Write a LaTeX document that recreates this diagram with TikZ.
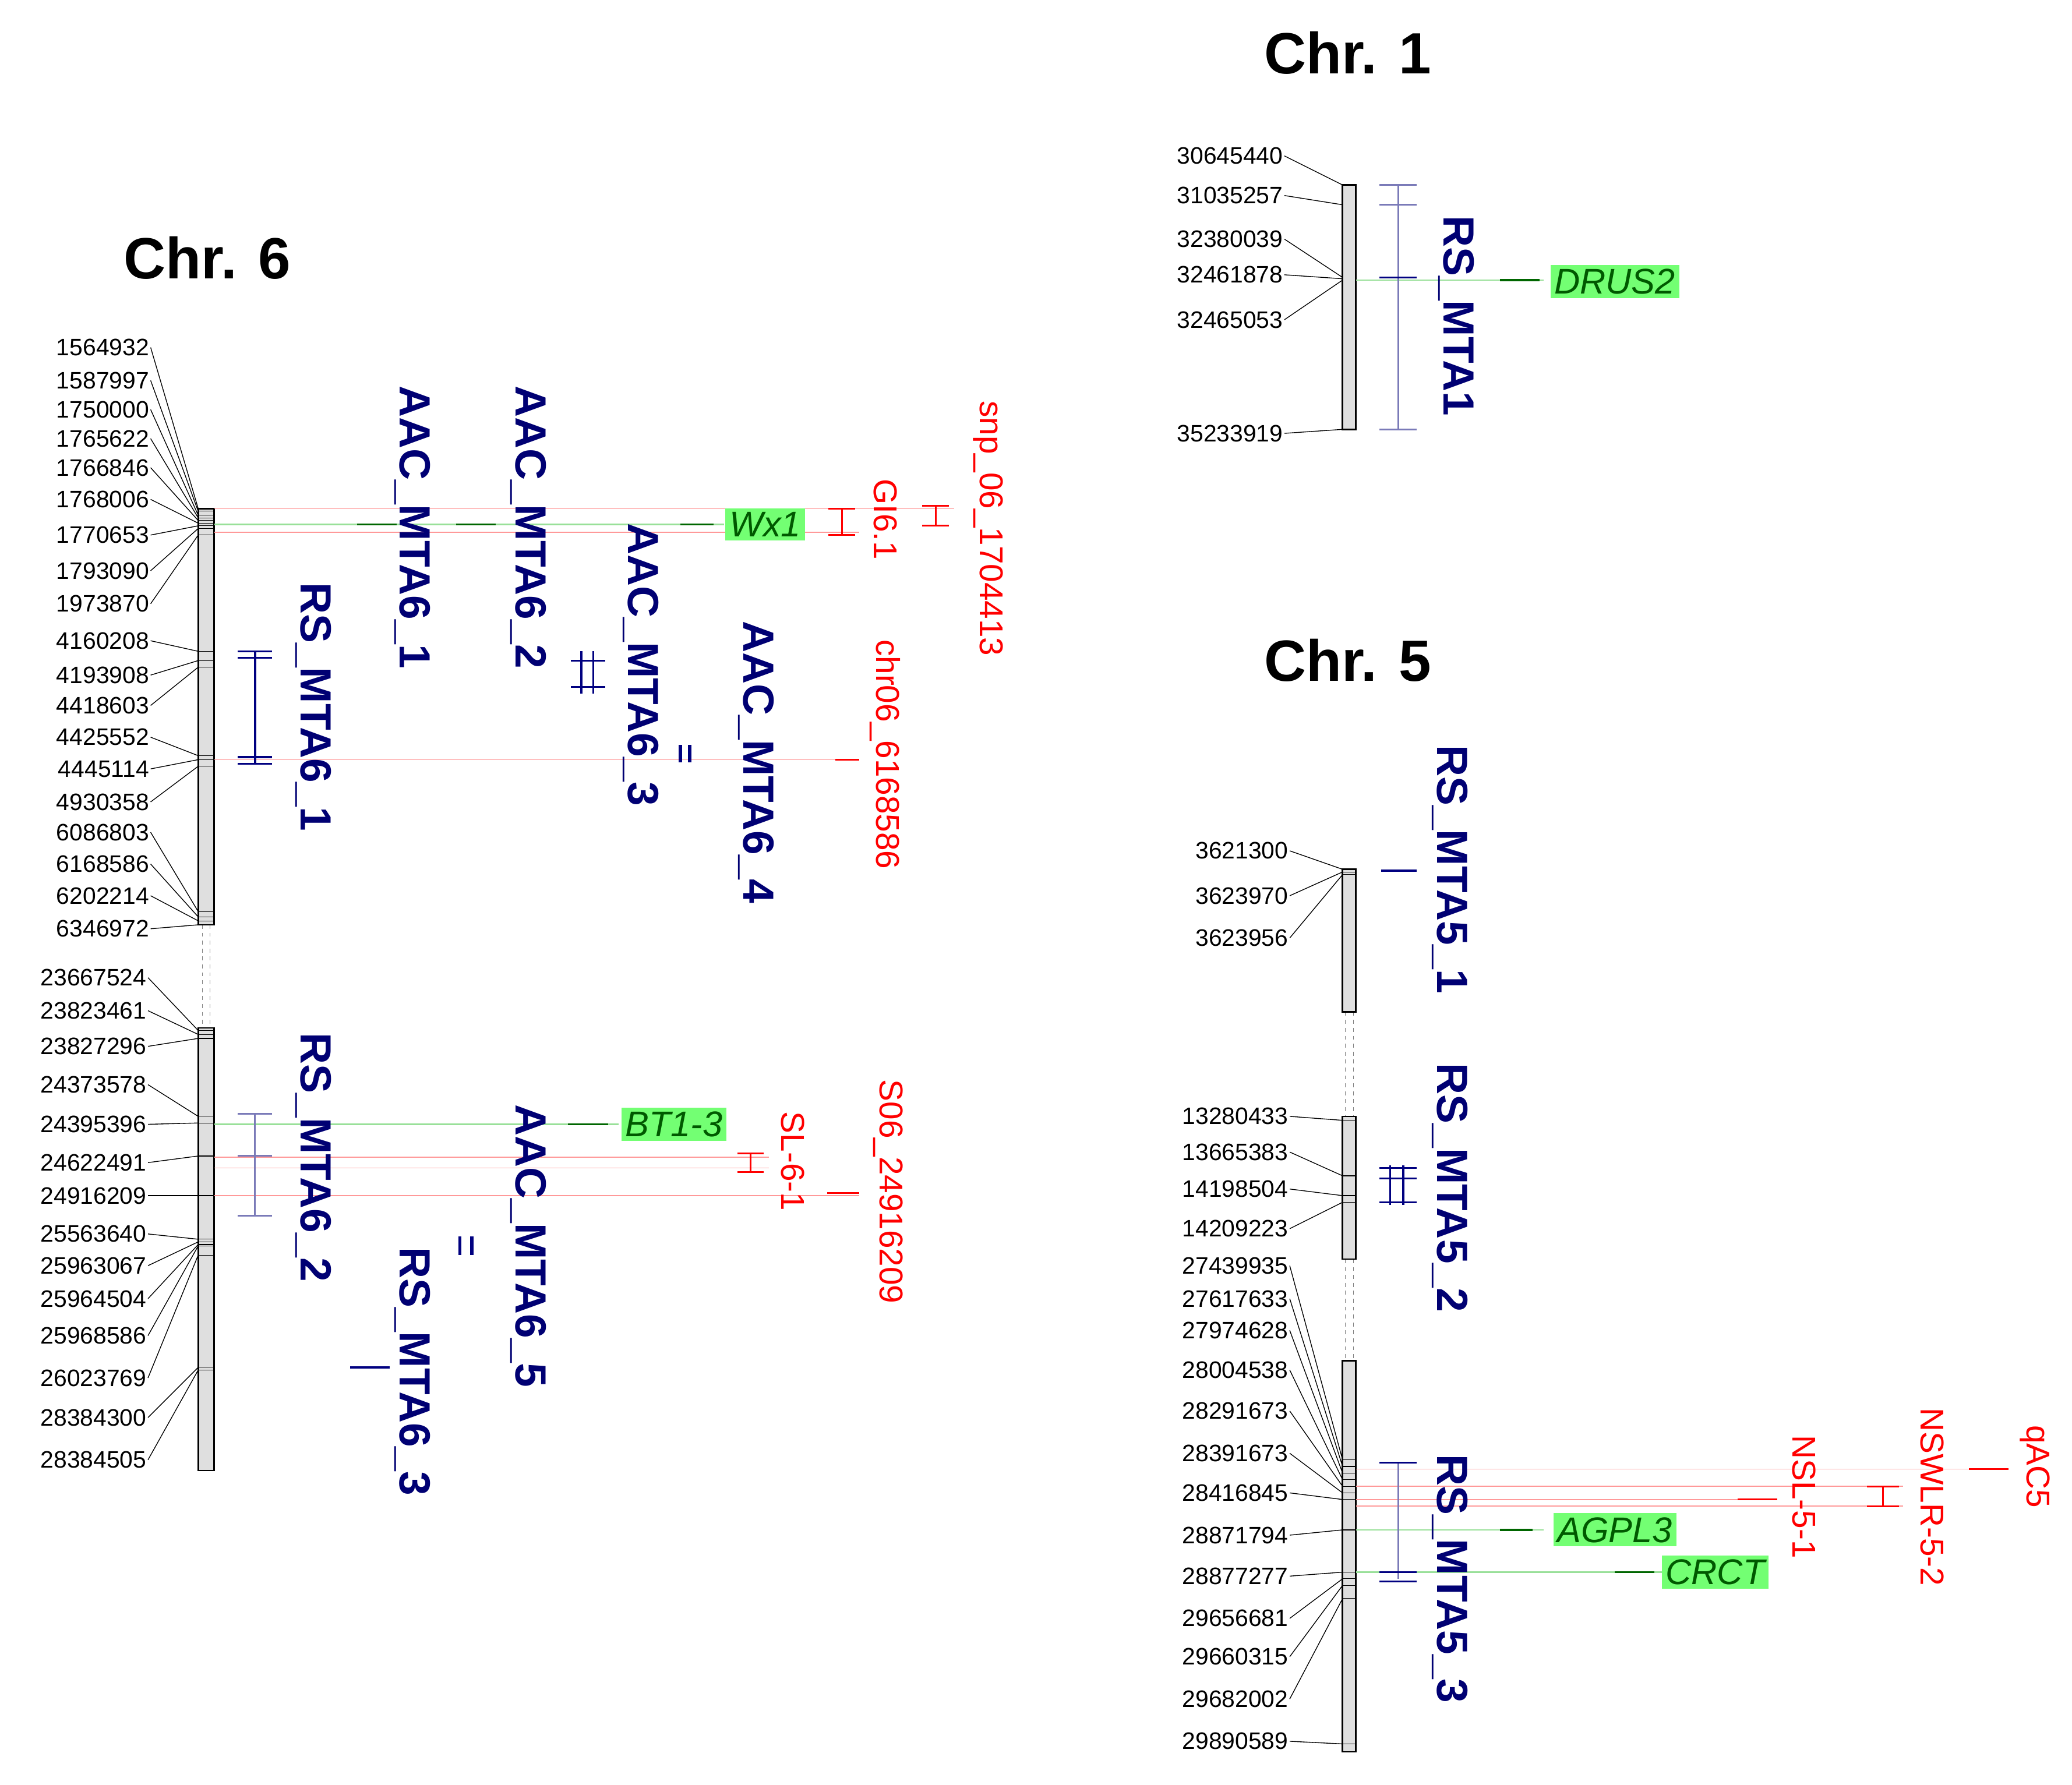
\documentclass[tikz,border=0pt]{standalone}
\usepackage{fontspec}
\setmainfont{Liberation Sans}
\begin{document}
\begin{tikzpicture}[x=1pt,y=-1pt,
 num/.style={anchor=east,font=\fontsize{18}{18}\selectfont,inner sep=1pt},
 mk/.style={rotate=-90,font=\fontsize{33}{33}\selectfont\bfseries,text=blue!45!black,inner sep=0pt},
 qt/.style={rotate=-90,font=\fontsize{25}{25}\selectfont,text=red,inner sep=0pt},
 bar/.style={draw=black,fill=gray!25,line width=1.2pt},
 gene/.style={fill=green!55,text=green!35!black,font=\fontsize{27}{27}\selectfont\itshape,inner sep=3pt},
 ttl/.style={font=\fontsize{44}{44}\selectfont\bfseries},
 rl/.style={red!40,line width=0.7pt},
 gl/.style={green!70!black!40,line width=1pt},
 ri/.style={red,line width=1.3pt},
 bi/.style={blue!50!black,line width=1.5pt},
 lbi/.style={blue!30!gray!80,line width=1.3pt},
 gt/.style={green!40!black,line width=1.5pt}]
\useasboundingbox (0,0) rectangle (1568,1351);
% ---------- Chr 6 ----------
\node[ttl] (t6) at (157,195) {Chr. 6};
\draw[gray,dashed] (153,700) -- (153,778) (159,700) -- (159,778);
\node[bar,minimum width=12pt,minimum height=315pt,inner sep=0pt] (b6a) at (156,542.5) {};
\node[bar,minimum width=12pt,minimum height=335pt,inner sep=0pt] (b6b) at (156,945.5) {};
\foreach \v/\ly/\by [count=\i] in {1564932/263/385,1587997/288/387,1750000/310/390,1765622/332/392,1766846/354/394,1768006/378/396,1770653/405/398,1793090/432/400,1973870/457/405,4160208/485/493,4193908/511/500,4418603/534/505,4425552/558/572,4445114/582/575,4930358/607/580,6086803/630/690,6168586/654/694,6202214/678/697,6346972/703/700}{
 \node[num] (ua\i) at (114,\ly) {\v};
 \draw[line width=0.6pt] (ua\i.east) -- (150,\by);
 \draw[line width=0.5pt] (150,\by) -- (162,\by);}
\foreach \v/\ly/\by [count=\i] in {23667524/740/780,23823461/765/783,23827296/792/786,24373578/821/845,24395396/851/850,24622491/880/875,24916209/905/905,25563640/934/938,25963067/958/940,25964504/983/942,25968586/1011/943,26023769/1043/950,28384300/1073/1035,28384505/1105/1037}{
 \node[num] (lb\i) at (112,\ly) {\v};
 \draw[line width=0.6pt] (lb\i.east) -- (150,\by);
 \draw[line width=0.5pt] (150,\by) -- (162,\by);}
% horizontal lines
\draw[rl] (162,385) -- (722,385);
\draw[rl] (162,403) -- (650,403);
\draw[gl] (162,397) -- (548,397);
\draw[rl] (162,575) -- (650,575);
\draw[gl] (162,851) -- (468,851);
\draw[rl] (162,876) -- (582,876) (162,884) -- (582,884);
\draw[rl] (162,905) -- (650,905);
% markers chr6
\node[mk] (a61) at (312,399) {AAC\_MTA6\_1};
\draw[gt] (270,397) -- (300,397);
\node[mk] (a62) at (400,399) {AAC\_MTA6\_2};
\draw[gt] (345,397) -- (375,397);
\node[mk] (a63) at (485,503) {AAC\_MTA6\_3};
\draw[gt] (515,397) -- (540,397);
\draw[bi] (440,493)--(440,525) (449,493)--(449,525) (432,500)--(458,500) (432,520)--(458,520);
\node[mk] (a64) at (572,577) {AAC\_MTA6\_4};
\draw[bi,line width=2.5pt] (515,564)--(515,577) (522,564)--(522,577);
\node[gene] (wx1) at (579,397) {Wx1};
\node[qt] (gi61) at (670,393) {GI6.1};
\draw[ri] (637,385)--(637,405) (627,385)--(647,385) (627,405)--(647,405);
\node[qt] (snp) at (748,400) {snp\_06\_1704413};
\draw[ri] (708,383)--(708,398) (698,383)--(718,383) (698,398)--(718,398);
\node[qt] (c06) at (670,571) {chr06\_6168586};
\draw[ri] (632,575)--(650,575);
\node[mk] (r61) at (237,535) {RS\_MTA6\_1};
\draw[bi] (193,493)--(193,578) (180,493)--(206,493) (180,498)--(206,498) (180,573)--(206,573) (180,578)--(206,578);
\node[mk] (r62) at (237,876) {RS\_MTA6\_2};
\draw[lbi] (193,843)--(193,920) (180,843)--(206,843) (180,875)--(206,875) (180,920)--(206,920);
\node[gene] (bt13) at (510,851) {BT1-3};
\draw[gt] (430,851)--(460,851);
\node[mk] (a65) at (400,943) {AAC\_MTA6\_5};
\draw[bi,line width=2.5pt] (348,936)--(348,950) (357,936)--(357,950);
\node[mk] (r63) at (312,1038) {RS\_MTA6\_3};
\draw[bi] (265,1035)--(295,1035);
\node[qt] (sl61) at (600,879) {SL-6-1};
\draw[ri] (568,873)--(568,887) (558,873)--(578,873) (558,887)--(578,887);
\node[qt] (s06) at (672,902) {S06\_24916209};
\draw[ri] (626,903)--(650,903);
% ---------- Chr 1 ----------
\node[ttl] (t1) at (1020,40) {Chr. 1};
\node[bar,minimum width=10pt,minimum height=185pt,inner sep=0pt] (b1) at (1021,232.5) {};
\foreach \v/\ly/\by [count=\i] in {30645440/118/140,31035257/148/155,32380039/181/210,32461878/208/211,32465053/242/212,35233919/328/325}{
 \node[num] (c1\i) at (972,\ly) {\v};
 \draw[line width=0.6pt] (c1\i.east) -- (1016,\by);}
\draw[gl] (1026,212) -- (1168,212);
\draw[lbi] (1058,140)--(1058,325) (1044,140)--(1072,140) (1044,155)--(1072,155) (1044,325)--(1072,325);
\draw[bi] (1044,210)--(1072,210);
\draw[gt] (1135,212)--(1165,212);
\node[mk] (r1) at (1102,239) {RS\_MTA1};
\node[gene] (drus2) at (1222,213) {DRUS2};
% ---------- Chr 5 ----------
\node[ttl] (t5) at (1020,500) {Chr. 5};
\draw[gray,dashed] (1018,766)--(1018,845) (1024,766)--(1024,845) (1018,953)--(1018,1030) (1024,953)--(1024,1030);
\node[bar,minimum width=10pt,minimum height=108pt,inner sep=0pt] (b5a) at (1021,712) {};
\node[bar,minimum width=10pt,minimum height=108pt,inner sep=0pt] (b5b) at (1021,899) {};
\node[bar,minimum width=10pt,minimum height=296pt,inner sep=0pt] (b5c) at (1021,1178) {};
\foreach \v/\ly/\by [count=\i] in {3621300/644/658,3623970/678/660,3623956/710/662,13280433/845/848,13665383/872/890,14198504/900/905,14209223/930/910,27439935/958/1105,27617633/983/1110,27974628/1007/1115,28004538/1037/1120,28291673/1068/1125,28391673/1100/1130,28416845/1130/1135,28871794/1162/1158,28877277/1193/1190,29656681/1225/1195,29660315/1254/1200,29682002/1286/1210,29890589/1318/1320}{
 \node[num] (c5\i) at (976,\ly) {\v};
 \draw[line width=0.6pt] (c5\i.east) -- (1016,\by);
 \draw[line width=0.5pt] (1016,\by) -- (1026,\by);}
\draw[rl] (1026,1112)--(1520,1112) (1026,1125)--(1440,1125) (1026,1140)--(1440,1140) (1026,1135)--(1345,1135);
\draw[gl] (1026,1158)--(1168,1158) (1026,1190)--(1258,1190);
\node[mk] (r51) at (1097,658) {RS\_MTA5\_1};
\draw[bi] (1045,659)--(1072,659);
\node[mk] (r52) at (1097,899) {RS\_MTA5\_2};
\draw[bi] (1052,882)--(1052,912) (1062,882)--(1062,912) (1044,884)--(1072,884) (1044,892)--(1072,892) (1044,910)--(1072,910);
\node[mk] (r53) at (1097,1195) {RS\_MTA5\_3};
\draw[lbi] (1058,1107)--(1058,1195) (1044,1107)--(1072,1107);
\draw[bi] (1044,1190)--(1072,1190) (1044,1197)--(1072,1197) (1044,1107)--(1072,1107);
\node[qt] (qac5) at (1540,1110) {qAC5};
\draw[ri] (1490,1112)--(1520,1112);
\node[qt] (nswlr) at (1462,1133) {NSWLR-5-2};
\draw[ri] (1425,1125)--(1425,1140) (1413,1125)--(1437,1125) (1413,1140)--(1437,1140);
\node[qt] (nsl) at (1365,1133) {NSL-5-1};
\draw[ri] (1315,1135)--(1345,1135);
\node[gene] (agpl3) at (1222,1158) {AGPL3};
\draw[gt] (1135,1158)--(1160,1158);
\node[gene] (crct) at (1298,1190) {CRCT};
\draw[gt] (1222,1190)--(1252,1190);
\end{tikzpicture}
\end{document}
